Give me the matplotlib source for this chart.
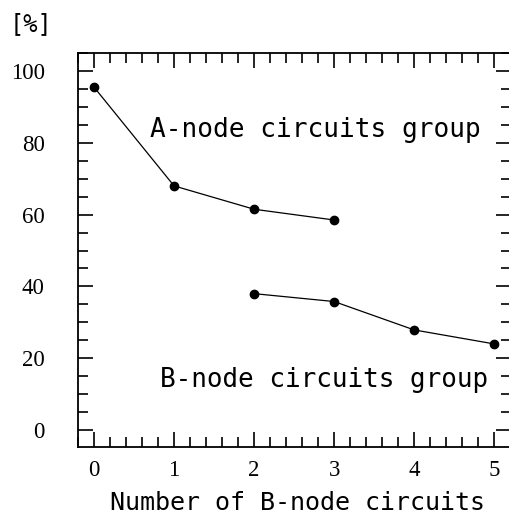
import numpy as np
import matplotlib
matplotlib.use("Agg")
import matplotlib.pyplot as plt
from matplotlib.ticker import MultipleLocator

# data
a_x = [0, 1, 2, 3]
a_y = [95.5, 68.0, 61.5, 58.5]
b_x = [2, 3, 4, 5]
b_y = [38.0, 35.8, 27.9, 24.0]

x_ticks = [0, 1, 2, 3, 4, 5]
y_ticks = [0, 20, 40, 60, 80, 100]

mono = "DejaVu Sans Mono"
serif = "Liberation Serif"

fig = plt.figure(figsize=(5.09, 5.27), dpi=100)
ax = fig.add_axes([78 / 509, 1 - 447 / 527, 433 / 509, 394 / 527])

ax.plot(a_x, a_y, color="black", lw=0.9, marker="o", ms=6)
ax.plot(b_x, b_y, color="black", lw=0.9, marker="o", ms=6)

ax.set_xlim(-0.2, 5.21)
ax.set_ylim(-4.7, 105)
ax.set_xticks(x_ticks)
ax.set_yticks(y_ticks)
ax.xaxis.set_minor_locator(MultipleLocator(0.2))
ax.yaxis.set_minor_locator(MultipleLocator(5))

ax.tick_params(which="both", direction="in", top=True, right=True, width=1.2)
ax.tick_params(which="major", length=11)
ax.tick_params(which="minor", length=7)
ax.tick_params(axis="x", pad=9)
ax.tick_params(axis="y", pad=24)
for lab in ax.get_xticklabels() + ax.get_yticklabels():
    lab.set_fontfamily(serif)
    lab.set_fontsize(16.5)
for sp in ax.spines.values():
    sp.set_linewidth(1.3)
ax.spines["right"].set_visible(False)

ax.text(0.7, 83.5, "A-node circuits group", fontfamily=mono, fontsize=18.8, va="center")
ax.text(0.83, 14.0, "B-node circuits group", fontfamily=mono, fontsize=18.7, va="center")
fig.text(110 / 509, 1 - 503 / 527, "Number of B-node circuits", fontfamily=mono,
         fontsize=18, va="center")
fig.text(10 / 509, 1 - 24 / 527, "[%]", fontfamily=mono, fontsize=17, va="center")

fig.savefig("out.png", dpi=100)
